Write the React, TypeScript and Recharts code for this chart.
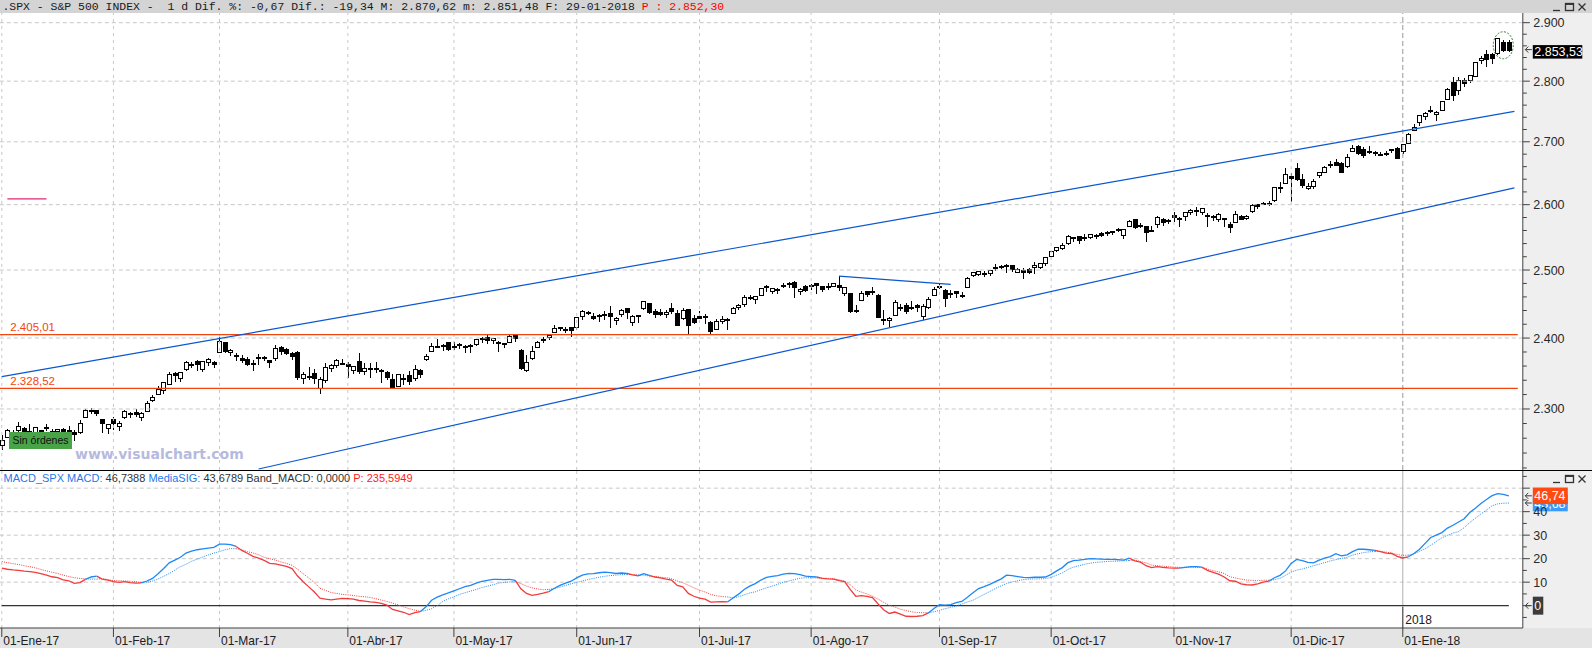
import React from "react";
import { ComposedChart, Bar, Line, XAxis, YAxis, ReferenceLine, ReferenceDot } from "recharts";

// trading days shown on the chart, grouped by month
const tradingDays: [string, number[]][] = [
  ["01-2017", [3, 4, 5, 6, 9, 10, 11, 12, 13, 17, 18, 19, 20, 23, 24, 25, 26, 27, 30, 31]],
  ["02-2017", [1, 2, 3, 6, 7, 8, 9, 10, 13, 14, 15, 16, 17, 21, 22, 23, 24, 27, 28]],
  ["03-2017", [1, 2, 3, 6, 7, 8, 9, 10, 13, 14, 15, 16, 17, 20, 21, 22, 23, 24, 27, 28, 29, 30, 31]],
  ["04-2017", [3, 4, 5, 6, 7, 10, 11, 12, 13, 17, 18, 19, 20, 21, 24, 25, 26, 27, 28]],
  ["05-2017", [1, 2, 3, 4, 5, 8, 9, 10, 11, 12, 15, 16, 17, 18, 19, 22, 23, 24, 25, 26, 30, 31]],
  ["06-2017", [1, 2, 5, 6, 7, 8, 9, 12, 13, 14, 15, 16, 19, 20, 21, 22, 23, 26, 27, 28, 29, 30]],
  ["07-2017", [3, 5, 6, 7, 10, 11, 12, 13, 14, 17, 18, 19, 20, 21, 24, 25, 26, 27, 28, 31]],
  ["08-2017", [1, 2, 3, 4, 7, 8, 9, 10, 11, 14, 15, 16, 17, 18, 21, 22, 23, 24, 25, 28, 29, 30, 31]],
  ["09-2017", [1, 5, 6, 7, 8, 11, 12, 13, 14, 15, 18, 19, 20, 21, 22, 25, 26, 27, 28, 29]],
  ["10-2017", [2, 3, 4, 5, 6, 9, 10, 11, 12, 13, 16, 17, 18, 19, 20, 23, 24, 25, 26, 27, 30, 31]],
  ["11-2017", [1, 2, 3, 6, 7, 8, 9, 10, 13, 14, 15, 16, 17, 20, 21, 22, 24, 27, 28, 29, 30]],
  ["12-2017", [1, 4, 5, 6, 7, 8, 11, 12, 13, 14, 15, 18, 19, 20, 21, 22, 26, 27, 28, 29]],
  ["01-2018", [2, 3, 4, 5, 8, 9, 10, 11, 12, 16, 17, 18, 19, 22, 23, 24, 25, 26, 29, 30]],
];

const monthLabels = [
  "01-Ene-17", "01-Feb-17", "01-Mar-17", "01-Abr-17", "01-May-17", "01-Jun-17", "01-Jul-17",
  "01-Ago-17", "01-Sep-17", "01-Oct-17", "01-Nov-17", "01-Dic-17", "01-Ene-18",
];

const opens = [
  2251.57, 2261.6, 2268.18, 2271.14, 2273.59, 2269.72, 2268.6, 2271.14, 2272.74, 2269.14, 2269.14, 2271.9, 2269.96, 2267.78, 2267.88, 2288.88, 2298.63, 2299.02, 2286.01, 2274.02,
  2285.59, 2276.69, 2288.54, 2294.28, 2295.87, 2289.55, 2296.7, 2312.27, 2321.72, 2326.12, 2335.58, 2349.64, 2343.01, 2354.91, 2361.11, 2367.5, 2355.73, 2365.23, 2366.08,
  2380.13, 2394.75, 2380.92, 2375.23, 2370.74, 2369.81, 2363.49, 2372.52, 2371.56, 2368.55, 2370.34, 2387.71, 2383.71, 2378.24, 2379.32, 2343.0, 2345.97, 2350.42, 2329.11, 2339.79, 2356.54, 2361.31, 2364.82,
  2362.34, 2354.76, 2366.59, 2353.79, 2356.59, 2357.16, 2353.92, 2352.15, 2341.98, 2332.62, 2342.53, 2346.79, 2342.69, 2354.74, 2370.33, 2381.51, 2388.98, 2389.7, 2393.68,
  2388.5, 2391.05, 2386.5, 2389.79, 2392.37, 2399.94, 2401.58, 2396.79, 2394.84, 2392.44, 2393.98, 2404.55, 2382.95, 2354.69, 2371.37, 2387.21, 2397.04, 2401.41, 2409.54, 2414.5, 2411.67, 2415.63,
  2415.65, 2431.28, 2437.83, 2431.92, 2432.03, 2434.27, 2436.39, 2425.88, 2434.15, 2443.75, 2424.14, 2431.24, 2442.55, 2450.66, 2439.31, 2437.4, 2434.65, 2443.32, 2436.34, 2428.7, 2442.38, 2429.2,
  2431.39, 2430.78, 2423.44, 2413.52, 2424.51, 2427.35, 2435.75, 2444.99, 2449.16, 2459.5, 2455.88, 2463.85, 2475.56, 2467.4, 2472.04, 2477.88, 2479.97, 2482.76, 2469.12, 2475.94,
  2477.1, 2480.38, 2476.03, 2476.88, 2477.14, 2478.35, 2465.35, 2465.38, 2441.04, 2454.96, 2468.66, 2468.63, 2462.95, 2427.64, 2425.5, 2433.75, 2444.88, 2447.91, 2444.72, 2447.35, 2431.94, 2446.06, 2462.65,
  2474.42, 2470.35, 2463.83, 2468.06, 2462.25, 2474.52, 2491.94, 2493.89, 2494.56, 2495.67, 2502.51, 2506.29, 2506.84, 2507.16, 2497.26, 2499.39, 2501.04, 2503.3, 2503.41, 2510.42,
  2521.2, 2530.34, 2533.48, 2540.86, 2547.44, 2551.39, 2549.99, 2550.62, 2552.88, 2555.66, 2555.57, 2557.17, 2562.87, 2553.39, 2567.56, 2578.08, 2568.66, 2566.52, 2560.08, 2570.26, 2577.75, 2575.99,
  2583.21, 2579.46, 2581.93, 2587.47, 2592.11, 2588.71, 2584.0, 2580.18, 2576.53, 2577.75, 2569.45, 2572.95, 2582.94, 2579.49, 2589.17, 2600.31, 2600.42, 2602.66, 2605.94, 2627.82, 2633.93,
  2645.1, 2657.19, 2639.78, 2626.24, 2628.38, 2646.21, 2652.19, 2661.73, 2667.59, 2665.87, 2660.63, 2685.92, 2692.71, 2688.18, 2683.02, 2684.22, 2679.09, 2682.1, 2686.1, 2689.15,
  2683.73, 2697.85, 2719.31, 2731.33, 2742.67, 2751.15, 2745.55, 2752.97, 2770.18, 2798.96, 2784.99, 2802.4, 2802.6, 2809.16, 2835.05, 2845.42, 2846.24, 2847.48, 2867.23, 2867.23,
];

const highs = [
  2263.88, 2272.82, 2271.5, 2282.1, 2275.49, 2279.27, 2275.32, 2271.78, 2278.68, 2272.08, 2272.01, 2274.33, 2276.96, 2271.78, 2284.63, 2299.55, 2300.99, 2299.02, 2286.01, 2279.09,
  2289.14, 2283.97, 2298.31, 2296.18, 2299.4, 2295.91, 2311.08, 2319.23, 2331.58, 2337.58, 2351.3, 2351.31, 2351.16, 2366.71, 2365.13, 2368.26, 2367.34, 2371.54, 2367.79,
  2400.98, 2394.75, 2383.89, 2378.8, 2375.12, 2373.09, 2369.08, 2376.86, 2374.42, 2368.55, 2390.01, 2388.1, 2385.71, 2379.55, 2381.93, 2351.81, 2358.92, 2356.22, 2344.9, 2363.78, 2363.36, 2370.42, 2370.35,
  2365.87, 2360.53, 2378.36, 2364.16, 2363.76, 2366.37, 2355.22, 2352.72, 2348.26, 2349.14, 2348.35, 2352.63, 2361.37, 2356.18, 2376.98, 2392.48, 2398.16, 2392.1, 2393.68,
  2394.49, 2392.93, 2389.82, 2391.43, 2399.29, 2401.36, 2403.87, 2399.74, 2395.72, 2392.44, 2404.05, 2405.77, 2384.87, 2375.74, 2389.06, 2395.46, 2400.85, 2405.58, 2418.71, 2416.68, 2415.26, 2415.99,
  2430.06, 2440.23, 2439.55, 2436.21, 2435.28, 2439.27, 2446.2, 2430.38, 2441.49, 2443.75, 2433.95, 2433.15, 2453.82, 2450.66, 2442.23, 2441.62, 2441.4, 2450.42, 2440.15, 2442.97, 2442.73, 2432.71,
  2439.17, 2434.9, 2424.28, 2426.92, 2432.0, 2429.3, 2445.76, 2449.32, 2463.54, 2462.82, 2460.92, 2473.83, 2477.62, 2472.54, 2473.1, 2481.24, 2481.69, 2484.04, 2473.53, 2477.96,
  2478.51, 2480.38, 2476.03, 2480.0, 2480.95, 2490.87, 2474.41, 2465.38, 2448.09, 2468.22, 2468.9, 2474.93, 2465.02, 2440.27, 2430.58, 2454.77, 2448.91, 2450.39, 2453.96, 2449.12, 2449.19, 2460.31, 2475.01,
  2480.38, 2471.97, 2469.64, 2468.62, 2467.11, 2488.95, 2496.77, 2498.37, 2498.43, 2500.23, 2508.32, 2507.84, 2508.85, 2507.16, 2503.47, 2502.54, 2503.51, 2511.75, 2510.81, 2519.44,
  2529.23, 2535.13, 2540.53, 2552.51, 2549.41, 2551.82, 2555.23, 2555.24, 2555.33, 2557.65, 2559.47, 2559.71, 2564.11, 2562.36, 2575.44, 2578.29, 2572.18, 2567.4, 2567.07, 2582.98, 2580.03, 2578.29,
  2588.4, 2581.11, 2588.42, 2593.38, 2597.02, 2595.47, 2586.5, 2583.81, 2587.66, 2579.66, 2572.84, 2590.09, 2583.96, 2584.64, 2601.19, 2600.94, 2604.21, 2606.41, 2627.69, 2634.89, 2657.74,
  2650.62, 2665.19, 2648.72, 2634.41, 2640.99, 2651.65, 2660.33, 2669.72, 2671.88, 2668.09, 2679.63, 2694.97, 2694.44, 2691.01, 2692.64, 2685.35, 2682.74, 2685.64, 2687.66, 2692.12,
  2695.89, 2714.37, 2729.29, 2743.45, 2748.51, 2759.14, 2750.8, 2767.56, 2787.85, 2807.54, 2807.04, 2805.83, 2810.33, 2833.03, 2842.24, 2852.97, 2848.56, 2872.87, 2870.62, 2870.62,
];

const lows = [
  2245.13, 2261.6, 2260.45, 2264.06, 2268.04, 2265.27, 2260.83, 2254.25, 2271.51, 2262.81, 2263.35, 2258.41, 2265.01, 2257.02, 2266.68, 2288.88, 2294.08, 2291.62, 2268.04, 2267.21,
  2272.44, 2271.65, 2287.88, 2288.57, 2290.16, 2285.38, 2296.61, 2311.1, 2321.42, 2322.17, 2334.81, 2338.87, 2339.58, 2354.91, 2358.34, 2355.09, 2352.87, 2361.87, 2358.96,
  2380.13, 2380.17, 2375.39, 2367.98, 2365.51, 2361.01, 2354.54, 2363.04, 2368.52, 2358.18, 2368.94, 2377.18, 2377.64, 2369.66, 2341.9, 2336.45, 2342.13, 2335.74, 2322.25, 2337.63, 2352.94, 2358.58, 2362.6,
  2344.73, 2350.72, 2350.52, 2348.9, 2344.73, 2351.5, 2337.25, 2341.18, 2328.95, 2332.51, 2334.54, 2335.05, 2340.91, 2344.51, 2369.19, 2381.15, 2386.78, 2382.68, 2382.36,
  2384.83, 2385.82, 2379.75, 2380.35, 2389.38, 2393.92, 2392.44, 2392.79, 2381.74, 2387.19, 2393.94, 2396.05, 2356.21, 2352.72, 2370.43, 2386.92, 2393.88, 2397.99, 2408.01, 2412.2, 2409.43, 2403.59,
  2413.54, 2427.71, 2434.32, 2428.12, 2424.75, 2427.94, 2415.7, 2419.97, 2431.28, 2428.34, 2418.53, 2422.88, 2441.79, 2436.6, 2430.74, 2433.27, 2431.11, 2437.03, 2419.38, 2428.02, 2405.7, 2421.65,
  2428.69, 2422.05, 2407.7, 2413.52, 2422.27, 2412.79, 2435.75, 2441.69, 2446.69, 2457.16, 2450.34, 2463.85, 2468.43, 2465.06, 2466.32, 2474.91, 2474.94, 2459.93, 2464.66, 2468.53,
  2471.14, 2466.48, 2468.85, 2472.08, 2475.88, 2470.32, 2462.08, 2437.75, 2437.85, 2454.96, 2461.61, 2463.86, 2430.01, 2420.69, 2417.35, 2433.67, 2441.42, 2436.19, 2442.22, 2439.03, 2428.2, 2443.77, 2462.65,
  2473.85, 2446.55, 2459.2, 2460.29, 2459.4, 2474.52, 2490.37, 2492.14, 2491.35, 2493.16, 2499.92, 2503.19, 2496.67, 2499.0, 2496.54, 2488.03, 2495.12, 2495.91, 2502.93, 2507.99,
  2520.4, 2528.85, 2531.8, 2540.02, 2543.79, 2541.6, 2544.86, 2547.95, 2548.31, 2552.09, 2553.8, 2554.69, 2559.67, 2547.92, 2567.56, 2563.65, 2565.58, 2544.0, 2559.8, 2565.94, 2568.25, 2572.15,
  2574.92, 2566.17, 2576.77, 2585.66, 2584.35, 2585.02, 2566.33, 2575.57, 2574.48, 2566.56, 2557.45, 2572.95, 2577.62, 2578.24, 2589.17, 2595.23, 2600.42, 2598.87, 2605.44, 2620.32, 2633.93,
  2605.52, 2639.03, 2627.73, 2624.75, 2626.53, 2644.1, 2651.47, 2659.78, 2662.85, 2652.01, 2659.14, 2685.92, 2680.74, 2676.11, 2682.4, 2678.13, 2677.96, 2678.91, 2682.69, 2673.61,
  2682.36, 2697.77, 2719.07, 2727.92, 2737.6, 2747.86, 2736.06, 2752.78, 2769.64, 2768.64, 2778.38, 2792.56, 2798.08, 2808.12, 2830.59, 2824.81, 2830.94, 2846.18, 2851.48, 2851.48,
];

const closes = [
  2257.83, 2270.75, 2269.0, 2276.98, 2268.9, 2268.9, 2275.32, 2270.44, 2274.64, 2267.89, 2271.89, 2263.69, 2271.31, 2265.2, 2280.07, 2298.37, 2296.68, 2294.69, 2280.9, 2278.87,
  2279.55, 2280.85, 2297.42, 2292.56, 2293.08, 2294.67, 2307.87, 2316.1, 2328.25, 2337.58, 2349.25, 2347.22, 2351.16, 2365.38, 2362.82, 2363.81, 2367.34, 2369.75, 2363.64,
  2395.96, 2381.92, 2383.12, 2375.31, 2368.39, 2362.98, 2364.87, 2372.6, 2373.47, 2365.45, 2385.26, 2381.38, 2378.25, 2373.47, 2344.02, 2348.45, 2345.96, 2343.98, 2341.59, 2358.57, 2361.13, 2368.06, 2362.72,
  2358.84, 2360.16, 2352.95, 2357.49, 2355.54, 2357.16, 2353.78, 2344.93, 2328.95, 2349.01, 2342.19, 2338.17, 2355.84, 2348.69, 2374.15, 2388.61, 2387.45, 2388.77, 2384.2,
  2388.33, 2391.17, 2388.13, 2389.52, 2399.29, 2399.38, 2396.92, 2399.63, 2394.44, 2390.9, 2402.32, 2400.67, 2357.03, 2365.72, 2381.73, 2394.02, 2398.42, 2404.39, 2415.07, 2415.82, 2412.91, 2411.8,
  2430.06, 2439.07, 2436.1, 2429.33, 2433.14, 2433.79, 2431.77, 2429.39, 2440.35, 2437.92, 2432.46, 2433.15, 2453.46, 2437.03, 2435.61, 2434.5, 2438.3, 2439.07, 2419.38, 2440.69, 2419.7, 2423.41,
  2429.01, 2432.54, 2409.75, 2425.18, 2427.43, 2425.53, 2443.25, 2447.83, 2459.27, 2459.14, 2460.61, 2473.83, 2473.45, 2472.54, 2469.91, 2477.13, 2477.83, 2475.42, 2472.1, 2470.3,
  2476.35, 2477.57, 2472.16, 2476.83, 2480.91, 2474.92, 2474.02, 2438.21, 2441.32, 2465.84, 2464.61, 2468.11, 2430.01, 2425.55, 2428.37, 2452.51, 2444.04, 2438.97, 2443.05, 2444.24, 2446.3, 2457.59, 2471.65,
  2476.55, 2457.85, 2465.54, 2465.1, 2461.43, 2488.11, 2496.48, 2498.37, 2495.62, 2500.23, 2503.87, 2506.65, 2508.24, 2500.6, 2502.22, 2496.66, 2496.84, 2507.04, 2510.06, 2519.36,
  2529.12, 2534.58, 2537.74, 2552.07, 2549.33, 2544.73, 2550.64, 2555.24, 2550.93, 2553.17, 2557.64, 2559.36, 2561.26, 2562.1, 2575.21, 2564.98, 2569.13, 2557.15, 2560.4, 2581.07, 2572.83, 2575.26,
  2579.36, 2579.85, 2587.84, 2591.13, 2590.64, 2594.38, 2584.62, 2582.3, 2584.84, 2578.87, 2564.62, 2585.64, 2578.85, 2582.14, 2599.03, 2597.08, 2602.42, 2601.42, 2627.04, 2626.07, 2647.58,
  2642.22, 2639.44, 2629.57, 2629.27, 2636.98, 2651.5, 2659.99, 2664.11, 2662.85, 2652.01, 2675.81, 2690.16, 2681.47, 2679.25, 2684.57, 2683.34, 2680.5, 2682.62, 2687.54, 2673.61,
  2695.81, 2713.06, 2723.99, 2743.15, 2747.71, 2751.29, 2748.23, 2767.56, 2786.24, 2776.42, 2802.56, 2798.03, 2810.3, 2832.97, 2839.13, 2837.54, 2839.25, 2872.87, 2853.53, 2853.53,
];

const macdValues = [
  16.0, 15.5, 15.2, 15.0, 14.7, 14.5, 14.2, 13.6, 13.0, 12.3, 11.9, 11.0, 10.6, 9.5, 9.8, 11.2, 12.2, 12.6, 11.3, 10.9,
  10.2, 9.9, 10.2, 9.8, 9.6, 9.7, 10.5, 11.6, 13.6, 15.8, 18.2, 19.4, 20.6, 22.4, 23.2, 23.8, 24.2, 24.5, 24.8, 26.2,
  26.2, 26.0, 25.2, 23.5, 22.3, 21.0, 20.2, 19.3, 18.0, 17.8, 17.3, 16.7, 15.8, 12.6, 10.2, 8.0, 5.8, 3.2, 2.8, 2.5,
  2.8, 3.1, 3.0, 2.8, 2.2, 1.9, 1.6, 1.4, 1.0, 0.2, -1.6, -2.2, -2.8, -3.8, -3.0, -2.5, -0.5, 2.3, 3.6, 4.6,
  5.4, 6.3, 7.2, 8.1, 8.6, 9.6, 10.3, 10.8, 11.2, 11.2, 11.1, 11.2, 10.8, 7.2, 5.2, 4.4, 4.8, 5.3, 6.0, 7.4,
  8.6, 9.6, 10.4, 11.8, 13.0, 13.5, 13.6, 14.0, 14.3, 14.1, 13.7, 13.9, 13.7, 13.1, 12.7, 13.6, 12.9, 12.2, 11.8, 11.3,
  10.9, 8.6, 8.0, 5.2, 4.0, 3.2, 2.8, 1.5, 1.6, 1.7, 1.6, 3.3, 4.9, 6.9, 8.3, 9.4, 10.9, 12.0, 12.5, 12.8,
  13.4, 13.7, 13.6, 13.2, 12.6, 12.4, 12.2, 11.6, 11.4, 11.3, 10.7, 10.2, 6.9, 4.0, 4.3, 4.0, 3.4, 0.7, -1.7, -3.3,
  -2.7, -3.6, -4.5, -4.6, -4.5, -4.2, -3.1, -1.2, 0.4, 0.2, 0.4, 1.3, 1.8, 3.6, 5.5, 7.3, 8.1, 9.1, 10.2, 11.3,
  13.0, 12.8, 12.4, 12.0, 11.9, 12.1, 12.1, 12.2, 13.3, 14.8, 16.2, 18.3, 19.2, 19.4, 19.7, 20.0, 19.9, 19.8, 19.7, 19.7,
  19.6, 19.4, 20.2, 19.1, 18.5, 17.0, 16.2, 16.6, 16.3, 16.1, 16.0, 16.0, 16.3, 16.6, 16.6, 16.4, 15.0, 14.2, 13.4, 12.2,
  10.6, 10.4, 9.3, 8.9, 8.8, 9.3, 10.0, 10.4, 11.9, 12.9, 14.8, 18.0, 19.7, 19.2, 18.4, 18.2, 19.4, 20.2, 20.9, 22.1,
  21.2, 21.6, 23.0, 24.0, 24.0, 23.8, 23.5, 23.0, 22.4, 22.2, 21.0, 20.3, 20.8, 22.2, 24.0, 26.5, 29.0, 30.0, 31.1, 33.0,
  34.2, 35.6, 37.0, 39.6, 41.5, 43.5, 45.2, 46.8, 47.7, 47.4, 46.74,
];

const signalValues = [
  18.8, 18.3, 17.9, 17.5, 17.0, 16.6, 16.1, 15.4, 14.8, 14.2, 13.7, 13.0, 12.4, 11.9, 11.6, 11.4, 11.3, 11.3, 11.5, 11.1,
  10.7, 10.6, 10.5, 10.4, 10.2, 9.9, 10.0, 10.5, 11.4, 12.5, 13.7, 15.1, 16.6, 17.6, 18.9, 19.8, 20.7, 21.6, 22.4, 23.0,
  23.8, 24.3, 24.2, 23.8, 23.0, 22.4, 21.7, 20.6, 20.0, 19.4, 18.6, 18.0, 17.2, 15.5, 13.6, 11.8, 9.8, 7.4, 6.5, 5.6,
  5.2, 4.8, 4.6, 4.3, 4.0, 3.8, 3.5, 3.0, 2.4, 1.8, 1.1, 0.3, -0.5, -1.3, -1.9, -2.4, -2.0, -1.3, 0.0, 1.8,
  2.9, 3.8, 4.8, 5.5, 6.2, 6.9, 7.7, 8.3, 8.9, 9.6, 9.9, 10.1, 10.2, 9.4, 8.3, 7.6, 7.1, 6.8, 6.9, 7.3,
  7.9, 8.6, 9.3, 9.9, 10.5, 11.1, 11.6, 12.1, 12.5, 12.8, 13.0, 13.2, 13.3, 13.3, 13.1, 13.0, 12.6, 12.4, 12.1, 11.9,
  11.5, 10.5, 9.8, 8.7, 7.6, 6.6, 5.8, 4.8, 4.2, 3.9, 3.7, 3.3, 3.8, 4.6, 5.4, 5.9, 6.8, 7.6, 8.3, 9.1,
  10.0, 10.5, 11.1, 11.7, 11.9, 11.9, 11.8, 11.7, 11.6, 11.5, 11.0, 10.4, 8.9, 6.7, 5.8, 5.0, 4.0, 2.8, 1.4, 0.2,
  -0.6, -1.5, -2.1, -2.6, -2.9, -3.0, -3.0, -2.6, -2.0, -1.3, -0.7, -0.1, 0.7, 1.6, 2.3, 3.6, 4.8, 6.0, 7.3, 8.4,
  9.4, 10.1, 10.6, 11.1, 11.3, 11.4, 11.4, 11.5, 12.0, 13.0, 14.0, 15.4, 16.4, 17.0, 17.6, 18.1, 18.4, 18.6, 18.8, 18.9,
  19.0, 19.1, 19.2, 19.3, 18.8, 18.2, 17.3, 17.0, 16.8, 16.6, 16.4, 16.3, 16.3, 16.3, 16.3, 16.2, 15.6, 14.9, 14.4, 13.7,
  12.3, 11.8, 11.3, 10.9, 10.8, 10.7, 10.8, 10.8, 11.1, 11.6, 12.9, 14.3, 15.1, 15.6, 16.3, 17.0, 17.6, 18.3, 19.0, 19.6,
  20.1, 20.6, 21.5, 22.1, 22.6, 22.9, 23.1, 23.1, 22.8, 22.4, 21.8, 21.4, 21.5, 22.0, 23.1, 24.2, 25.7, 27.3, 28.9, 29.9,
  30.9, 31.5, 33.2, 35.4, 37.2, 39.0, 40.7, 42.5, 43.3, 43.6, 43.68,
];

// drawn studies (bar index, price)
const upperTrend = [{ i: 0, p: 2345.1 }, { i: 271, p: 2749.6 }];
const lowerTrend = [{ i: 46, p: 2218.6 }, { i: 271, p: 2626.4 }];
const augustLine = [{ i: 150, p: 2490.9 }, { i: 170, p: 2478.5 }];
const orderMark = [{ i: 1, p: 2609 }, { i: 8, p: 2609 }];
const levels = [2405.01, 2328.52];

const priceMajor = [2300, 2400, 2500, 2600, 2700, 2800, 2900];
const priceTicks = [
  2220, 2240, 2260, 2280, 2300, 2320, 2340, 2360, 2380, 2400, 2420, 2440, 2460, 2480, 2500, 2520, 2540, 2560,
  2580, 2600, 2620, 2640, 2660, 2680, 2700, 2720, 2740, 2760, 2780, 2800, 2820, 2840, 2860, 2880, 2900,
];
const macdGrid = [10, 20, 30, 40, 50];
const macdTicks = [-5, 0, 5, 10, 15, 20, 25, 30, 35, 40, 45, 50, 55];

const pad2 = (n: number) => (n < 10 ? "0" + n : "" + n);
const dates = tradingDays.flatMap(([m, days]) => days.map((d) => `${pad2(d)}-${m}`));
const monthStarts = tradingDays.map(([m, days]) => `${pad2(days[0])}-${m}`);
const labelOf: Record<string, string> = {};
monthStarts.forEach((d, k) => (labelOf[d] = monthLabels[k]));
const JAN18 = monthStarts[monthStarts.length - 1];
const padCats = ["pad1", "pad2"];
const catAt = (i: number) => (i < dates.length ? dates[i] : padCats[i - dates.length]);

const priceRows: any[] = dates.map((d, i) => ({
  d, range: [lows[i], highs[i]], o: opens[i], h: highs[i], l: lows[i], c: closes[i],
}));
padCats.forEach((d) => priceRows.push({ d }));

const up = macdValues.map((m, i) => m >= signalValues[i]);
const n = dates.length;
const macdRows: any[] = dates.map((d, i) => {
  const inBlue = up[i] || (i + 1 < n && up[i + 1]);
  const inRed = !up[i] || (i + 1 < n && !up[i + 1]);
  return {
    d,
    mb: inBlue ? macdValues[i] : null,
    mr: inRed ? macdValues[i] : null,
    sb: inBlue ? signalValues[i] : null,
    sr: inRed ? signalValues[i] : null,
  };
});
padCats.forEach((d) => macdRows.push({ d }));

const W = 1593.3;
const AXIS_W = 69.5;
const BLUE = "#1e88f5";
const RED = "#f03c3c";
const TREND = "#0b57d0";
const ORANGE = "#f0460f";
const GRID = "#c8c8c8";
const FONT = "'Liberation Sans', Arial, sans-serif";

const thousands = (v: number) => `${Math.floor(v / 1000)}.${String(v % 1000).padStart(3, "0")}`;

function Candle(props: any) {
  const { x, y, width, height } = props;
  const row = props.payload && props.payload.h != null ? props.payload : priceRows[props.index];
  if (!row || row.h == null || !isFinite(y) || !isFinite(height)) return null;
  const cx = Math.round(x + width / 2);
  const top = Math.min(y, y + height);
  const h = Math.abs(height);
  const lh = Math.log(row.h);
  const span = lh - Math.log(row.l);
  const toY = (v: number) => (span > 0 ? top + ((lh - Math.log(v)) / span) * h : top);
  const yo = toY(row.o);
  const yc = toY(row.c);
  const bTop = Math.round(Math.min(yo, yc));
  const bH = Math.max(1, Math.round(Math.abs(yc - yo)));
  const rising = row.c >= row.o;
  return (
    <g shapeRendering="crispEdges">
      <line x1={cx + 0.5} x2={cx + 0.5} y1={Math.round(top)} y2={Math.round(top + h) + 1} stroke="#000" />
      {rising ? (
        <rect x={cx - 1.5} y={bTop + 0.5} width={4} height={bH} fill="#fff" stroke="#000" />
      ) : (
        <rect x={cx - 2} y={bTop} width={5} height={bH + 1} fill="#000" />
      )}
    </g>
  );
}

function PriceTick(props: any) {
  const { x, y, payload } = props;
  const v = payload.value;
  const major = v % 100 === 0;
  return (
    <g>
      <line x1={x} x2={x + (major ? 7 : 4)} y1={y} y2={y} stroke="#404040" />
      {major && (
        <text x={x + 10.5} y={y + 4.5} fontSize={12.5} fill="#2a2a2a" fontFamily={FONT}>
          {thousands(v)}
        </text>
      )}
    </g>
  );
}

function MacdTick(props: any) {
  const { x, y, payload } = props;
  const v = payload.value;
  const major = v % 10 === 0;
  return (
    <g>
      <line x1={x} x2={x + (major ? 7 : 4)} y1={y} y2={y} stroke="#404040" />
      {major && v > 0 && v < 50 && (
        <text x={x + 10.5} y={y + 4.5} fontSize={12.5} fill="#2a2a2a" fontFamily={FONT}>
          {v}
        </text>
      )}
    </g>
  );
}

function DateTick(props: any) {
  const { x, y, payload } = props;
  const isYear = payload.value === JAN18;
  return (
    <g>
      <line x1={x} x2={x} y1={isYear ? y - 21 : y} y2={y + 9} stroke="#404040" />
      <text x={x + 1.5} y={y + 17.5} fontSize={12} fill="#202020" fontFamily={FONT}>
        {labelOf[payload.value]}
      </text>
      {isYear && (
        <text x={x + 2.5} y={y - 3.5} fontSize={12} fill="#202020" fontFamily={FONT}>
          2018
        </text>
      )}
    </g>
  );
}

// value tag drawn in the axis strip, at the right end of a horizontal reference line
const tag = (text: string, bg: string, w: number, above: number, below: number) => (p: any) => {
  const x = Math.max(p.x1, p.x2);
  const y = p.y1;
  return (
    <g>
      <path
        d={`M${x + 9} ${y} H${x + 2.5} M${x + 5.5} ${y - 3} L${x + 2.5} ${y} L${x + 5.5} ${y + 3}`}
        stroke="#3a3a3a"
        fill="none"
      />
      <rect x={x + 10} y={y - above} width={w} height={above + below} fill={bg} />
      <text x={x + 11.5} y={y + (below - above) / 2 + 4.5} fontSize={12.5} fill="#fff" fontFamily={FONT}>
        {text}
      </text>
    </g>
  );
};

const levelShape = (text: string) => (p: any) => {
  const left = Math.min(p.x1, p.x2);
  const right = Math.max(p.x1, p.x2);
  return (
    <g>
      <line x1={left} x2={right - 5} y1={p.y1} y2={p.y2} stroke={ORANGE} strokeWidth={1.2} />
      <text x={left + 11.3} y={p.y1 - 3.5} fontSize={11.5} fill={ORANGE} fontFamily={FONT}>
        {text}
      </text>
    </g>
  );
};

const seg = (pts: { i: number; p: number }[]) => pts.map((q) => ({ x: catAt(q.i), y: q.p }));

function MainChart() {
  return (
    <ComposedChart width={W} height={470} data={priceRows} margin={{ top: 13, right: 0, bottom: 0, left: 0 }}>
      <XAxis dataKey="d" hide scale="band" />
      <YAxis
        orientation="right"
        width={AXIS_W}
        type="number"
        scale="log"
        domain={[2217.3, 2916.9]}
        allowDataOverflow
        ticks={priceTicks}
        interval={0}
        tickLine={false}
        tickSize={0}
        tickMargin={0}
        axisLine={{ stroke: "#404040" }}
        tick={(p: any) => <PriceTick {...p} />}
      />
      {priceMajor.map((v) => (
        <ReferenceLine key={"h" + v} y={v} stroke={GRID} strokeDasharray="4 3" />
      ))}
      {monthStarts.map((d) =>
        d === JAN18 ? (
          <ReferenceLine key={"v" + d} x={d} stroke="#9a9a9a" strokeDasharray="5 3" />
        ) : (
          <ReferenceLine key={"v" + d} x={d} stroke={GRID} strokeDasharray="3 4" />
        )
      )}
      <ReferenceLine y={levels[0]} shape={levelShape("2.405,01")} />
      <ReferenceLine y={levels[1]} shape={levelShape("2.328,52")} />
      <ReferenceLine segment={seg(orderMark)} stroke="#e0286e" strokeWidth={1.2} ifOverflow="visible" />
      <ReferenceLine segment={seg(upperTrend)} stroke={TREND} strokeWidth={1.2} ifOverflow="visible" />
      <ReferenceLine segment={seg(lowerTrend)} stroke={TREND} strokeWidth={1.2} ifOverflow="visible" />
      <ReferenceLine segment={seg(augustLine)} stroke={TREND} strokeWidth={1.2} ifOverflow="visible" />
      <Bar dataKey="range" isAnimationActive={false} shape={(p: any) => <Candle {...p} />} />
      <ReferenceDot
        x={dates[269]}
        y={2861}
        r={10}
        shape={(p: any) => (
          <ellipse cx={p.cx} cy={p.cy} rx={10} ry={13.5} fill="none" stroke="#2d7a2d" strokeDasharray="2 1.5" />
        )}
      />
      <ReferenceLine y={closes[closes.length - 1]} shape={tag("2.853,53", "#000", 49.5, 4.5, 9)} />
    </ComposedChart>
  );
}

function MacdChart() {
  return (
    <ComposedChart width={W} height={177} data={macdRows} margin={{ top: 0, right: 0, bottom: 0, left: 0 }}>
      <XAxis
        dataKey="d"
        scale="band"
        height={20}
        ticks={monthStarts}
        interval={0}
        tickLine={false}
        tickSize={0}
        tickMargin={0}
        axisLine={{ stroke: "#404040" }}
        tick={(p: any) => <DateTick {...p} />}
      />
      <YAxis
        orientation="right"
        width={AXIS_W}
        type="number"
        domain={[-9.5, 57.3]}
        allowDataOverflow
        ticks={macdTicks}
        interval={0}
        tickLine={false}
        tickSize={0}
        tickMargin={0}
        axisLine={{ stroke: "#404040" }}
        tick={(p: any) => <MacdTick {...p} />}
      />
      {macdGrid.map((v) => (
        <ReferenceLine key={"h" + v} y={v} stroke={GRID} strokeDasharray="4 3" />
      ))}
      {monthStarts.map((d) =>
        d === JAN18 ? (
          <ReferenceLine key={"v" + d} x={d} stroke="#b0b0b0" />
        ) : (
          <ReferenceLine key={"v" + d} x={d} stroke={GRID} strokeDasharray="3 4" />
        )
      )}
      <ReferenceLine segment={[{ x: dates[0], y: 0 }, { x: dates[n - 1], y: 0 }]} stroke="#333" strokeWidth={1.2} />
      <Line dataKey="sr" stroke={RED} strokeWidth={1} strokeDasharray="1 1.2" dot={false} isAnimationActive={false} />
      <Line dataKey="sb" stroke={BLUE} strokeWidth={1} strokeDasharray="1 1.2" dot={false} isAnimationActive={false} />
      <Line dataKey="mr" stroke={RED} strokeWidth={1.3} dot={false} isAnimationActive={false} />
      <Line dataKey="mb" stroke={BLUE} strokeWidth={1.3} dot={false} isAnimationActive={false} />
      <ReferenceLine y={signalValues[n - 1]} shape={tag("43,68", "#3a9cf8", 35, 8.3, 8.3)} />
      <ReferenceLine y={macdValues[n - 1]} shape={tag("46,74", "#ff4a12", 35, 8.3, 8.3)} />
      <ReferenceLine y={0} shape={tag("0", "#3c3c3c", 10.5, 9, 9)} />
    </ComposedChart>
  );
}

function WinButtons({ top }: { top: number }) {
  return (
    <svg style={{ position: "absolute", left: 1550, top, width: 40, height: 11 }}>
      <g stroke="#333" fill="none" strokeWidth={1.3}>
        <line x1={3} x2={10} y1={8.5} y2={8.5} />
        <rect x={15.5} y={1.5} width={8} height={7} />
        <line x1={15.5} x2={23.5} y1={2.3} y2={2.3} />
        <line x1={28.5} y1={1.5} x2={35.5} y2={8.5} />
        <line x1={35.5} y1={1.5} x2={28.5} y2={8.5} />
      </g>
    </svg>
  );
}

const headerText = ".SPX - S&P 500 INDEX -  1 d Dif. %: -0,67 Dif.: -19,34 M: 2.870,62 m: 2.851,48 F: 29-01-2018 ";

export default function App() {
  return (
    <div
      style={{
        position: "fixed",
        left: 0,
        top: 0,
        width: 1592,
        height: 648,
        overflow: "hidden",
        background: "#e4e4e4",
        fontFamily: FONT,
      }}
    >
      <div style={{ position: "absolute", left: 0, top: 13, width: 1522.5, height: 457, background: "#fff" }} />
      <div style={{ position: "absolute", left: 1522.5, top: 13, width: 70, height: 457, background: "#efefef" }} />
      <div style={{ position: "absolute", left: 0, top: 471, width: 1522.5, height: 157, background: "#fff" }} />
      <div style={{ position: "absolute", left: 1522.5, top: 471, width: 70, height: 157, background: "#efefef" }} />

      <div style={{ position: "absolute", left: -1.3, top: 0 }}>
        <MainChart />
      </div>
      <div style={{ position: "absolute", left: -1.3, top: 471 }}>
        <MacdChart />
      </div>

      <div style={{ position: "absolute", left: 0, top: 0, width: 1592, height: 13, background: "#d4d4d4" }}>
        <div
          style={{
            position: "absolute",
            left: 2.5,
            top: 0,
            fontFamily: "'Liberation Mono', monospace",
            fontSize: 11.46,
            lineHeight: "13px",
            color: "#1a1a1a",
            whiteSpace: "pre",
          }}
        >
          {headerText}
          <span style={{ color: "#ff0000" }}>P : 2.852,30</span>
        </div>
      </div>
      <WinButtons top={2} />
      <div style={{ position: "absolute", left: 0, top: 470, width: 1592, height: 1, background: "#000" }} />
      <WinButtons top={474} />

      <div
        style={{
          position: "absolute",
          left: 3.5,
          top: 472,
          fontSize: 11,
          lineHeight: "13px",
          whiteSpace: "pre",
          color: "#333",
        }}
      >
        <span style={{ color: "#1f78e8" }}>MACD_SPX MACD:</span> 46,7388 <span style={{ color: "#1f78e8" }}>MediaSIG:</span>{" "}
        43,6789 Band_MACD: 0,0000 <span style={{ color: "#ff1a1a" }}>P: 235,5949</span>
      </div>

      <div
        style={{
          position: "absolute",
          left: 9,
          top: 431.5,
          width: 63,
          height: 17,
          background: "#48a447",
          color: "#111",
          fontSize: 10.5,
          lineHeight: "17px",
          paddingLeft: 3.5,
          boxSizing: "border-box",
        }}
      >
        Sin órdenes
      </div>
      <div
        style={{
          position: "absolute",
          left: 75,
          top: 446,
          fontFamily: "'DejaVu Sans', sans-serif",
          fontWeight: "bold",
          fontSize: 14,
          lineHeight: "16px",
          color: "#b6badf",
          whiteSpace: "pre",
        }}
      >
        www.visualchart.com
      </div>
    </div>
  );
}
